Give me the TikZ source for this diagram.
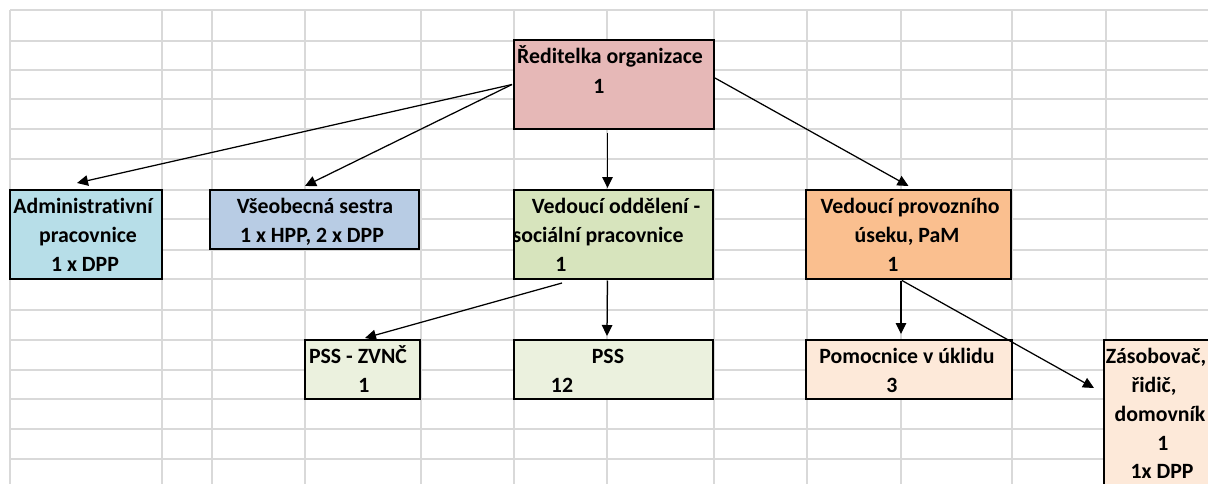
\documentclass[tikz,border=0pt]{standalone}
\usepackage{fontspec}
\setmainfont{Carlito}[RawFeature={-liga;-clig}]
\usetikzlibrary{arrows.meta}
\definecolor{gridc}{HTML}{D9D9D9}
\definecolor{cdir}{HTML}{E6B8B7}
\definecolor{cadm}{HTML}{B7DEE8}
\definecolor{cves}{HTML}{B8CCE4}
\definecolor{cvod}{HTML}{D7E4BD}
\definecolor{cvpr}{HTML}{FABF8F}
\definecolor{cpss}{HTML}{EBF1DE}
\definecolor{cpom}{HTML}{FDE9D9}
\begin{document}
\begin{tikzpicture}[x=1pt,y=-1pt,
  gridline/.style={draw=gridc,line width=1.3pt},
  box/.style={draw=black,line width=2.9pt,rectangle,outer sep=0pt,inner sep=0pt},
  lbl/.style={anchor=base,inner sep=0pt,font=\bfseries\fontsize{21.8}{26}\selectfont},
  arr/.style={line width=1.25pt,-{Triangle[length=11pt,width=10.5pt]}}]
\clip (0,0) rectangle (1208,483);
\fill[white] (0,0) rectangle (1208,483);
% spreadsheet grid
\foreach \gx in {10,162,212,305,421,514,607,714,807,901,1012,1106}
  \draw[gridline] (\gx,10) -- (\gx,490);
\foreach \gy in {10,41,70,99,129,159,190,219,250,279,310,340,370,399,429,459}
  \draw[gridline] (10,\gy) -- (1215,\gy);
% boxes
\node[box,fill=cdir,minimum width=200pt,minimum height=89pt] (dir) at (614,84.5) {};
\node[box,fill=cadm,minimum width=152pt,minimum height=89pt] (adm) at (86,234.5) {};
\node[box,fill=cves,minimum width=209pt,minimum height=59pt] (ves) at (314.5,219.5) {};
\node[box,fill=cvod,minimum width=199pt,minimum height=89pt] (vod) at (613.5,234.5) {};
\node[box,fill=cvpr,minimum width=205pt,minimum height=89pt] (vpr) at (908.5,234.5) {};
\node[box,fill=cpss,minimum width=115pt,minimum height=59pt] (pz) at (362.5,369.5) {};
\node[box,fill=cpss,minimum width=199pt,minimum height=59pt] (pss) at (613.5,369.5) {};
\node[box,fill=cpom,minimum width=206pt,minimum height=59pt] (pom) at (909,369.5) {};
\node[box,fill=cpom,minimum width=136pt,minimum height=170pt] (zas) at (1172,425) {};
% labels
\node[lbl] (t1) at (610,63) {Ředitelka organizace};
\node[lbl] (t2) at (599,93) {1};
\node[lbl] (t3) at (83,213) {Administrativní};
\node[lbl] (t4) at (88,242) {pracovnice};
\node[lbl] (t5) at (85,271) {1 x DPP};
\node[lbl] (t6) at (315,213) {Všeobecná sestra};
\node[lbl] (t7) at (312,242) {1 x HPP, 2 x DPP};
\node[lbl] (t8) at (616,213) {Vedoucí oddělení -};
\node[lbl] (t9) at (598,242) {sociální pracovnice};
\node[lbl] (t10) at (561,271) {1};
\node[lbl] (t11) at (910,213) {Vedoucí provozního};
\node[lbl] (t12) at (907,242) {úseku, PaM};
\node[lbl] (t13) at (893,271) {1};
\node[lbl] (t14) at (358,363) {PSS - ZVNČ};
\node[lbl] (t15) at (364,392) {1};
\node[lbl] (t16) at (608,363) {PSS};
\node[lbl] (t17) at (562,392) {12};
\node[lbl] (t18) at (907,363) {Pomocnice v úklidu};
\node[lbl] (t19) at (892,392) {3};
\node[lbl] (t20) at (1156,363) {Zásobovač,};
\node[lbl] (t21) at (1154,392) {řidič,};
\node[lbl] (t22) at (1160,421) {domovník};
\node[lbl] (t23) at (1163,450) {1};
\node[lbl] (t24) at (1162,478) {1x DPP};
% connectors
\draw[arr] ([shift={(-2,0)}]dir.west) -- ([shift={(-9,-7)}]adm.north);
\draw[arr] ([shift={(-2,0)}]dir.west) -- ([shift={(-9.5,-4)}]ves.north);
\draw[arr] ([shift={(-6.5,4)}]dir.south) -- ([shift={(-6,-2)}]vod.north);
\draw[arr] ([shift={(1,-6.5)}]dir.east) -- ([shift={(0,-4)}]vpr.north);
\draw[arr] ([shift={(-51.5,4)}]vod.south) -- ([shift={(2.5,-2)}]pz.north);
\draw[arr] ([shift={(-6,1.5)}]vod.south) -- ([shift={(-6.5,-4)}]pss.north);
\draw[arr] ([shift={(-7.5,1.5)}]vpr.south) -- ([shift={(-8,-6)}]pom.north);
\draw[arr] ([shift={(-6.5,1.5)}]vpr.south) -- ([shift={(-10,48)}]zas.north west);
\end{tikzpicture}
\end{document}
